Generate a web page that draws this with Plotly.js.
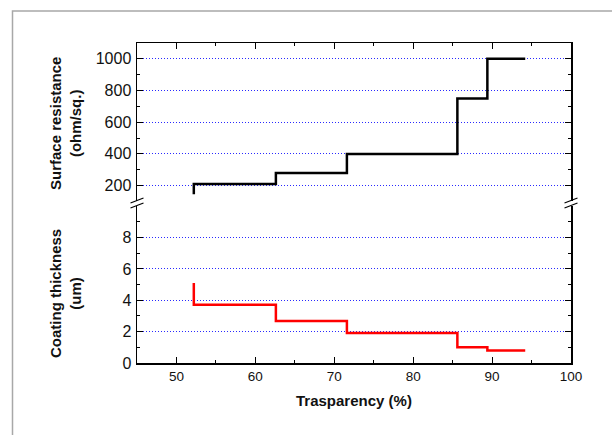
<!DOCTYPE html>
<html>
<head>
<meta charset="utf-8">
<script src="https://cdn.plot.ly/plotly-3.0.1.min.js"></script>
<style>html,body{margin:0;padding:0;background:#fff;}#chart{width:612px;height:435px;}</style>
</head>
<body>
<div id="chart"></div>
<script>
// ---- data ----
const transparency = [52.2, 52.2, 62.6, 71.6, 85.6, 89.4, 94.2];
const resistance   = [145, 210, 280, 400, 750, 1000, 1000];
const thickness    = [5.1, 3.72, 2.68, 1.91, 1.0, 0.79, 0.79];
const xTicks = [50, 60, 70, 80, 90, 100];
const resTicks = [200, 400, 600, 800, 1000];
const thkTicks = [0, 2, 4, 6, 8];
const xTitle = 'Trasparency (%)';
const resTitle = 'Surface resistance<br>(ohm/sq.)';
const thkTitle = 'Coating thickness<br>(um)';

// ---- layout geometry ----
const W = 612, H = 435, ML = 137, MR = 41, MT = 43, MB = 72;
const PW = W - ML - MR, PH = H - MT - MB;
const px = v => (v - ML) / PW;
const py = v => (H - MB - v) / PH;
const FONT = 'Arial, "Liberation Sans", Helvetica, sans-serif';

const common = {
  showline: true, linecolor: '#000', linewidth: 1.5,
  ticks: 'inside', ticklen: 6, tickwidth: 1, tickcolor: '#000',
  zeroline: false
};

const traces = [
  {x: transparency, y: resistance, xaxis: 'x2', yaxis: 'y2', type: 'scatter', mode: 'lines',
   line: {shape: 'hv', color: '#000', width: 2.5}, hoverinfo: 'skip'},
  {x: transparency, y: thickness, xaxis: 'x', yaxis: 'y', type: 'scatter', mode: 'lines',
   line: {shape: 'hv', color: '#ff0000', width: 2.5}, hoverinfo: 'skip'}
];

function brk(xc, yc) {
  return {type: 'line', xref: 'paper', yref: 'paper',
    x0: px(xc - 6.5), y0: py(yc + 2.5), x1: px(xc + 6.5), y1: py(yc - 2.5),
    line: {color: '#000', width: 1.2}};
}

const gridStyle = {showgrid: true, gridcolor: '#2a2aff', gridwidth: 1, griddash: '1px,2px'};

const layout = {
  width: W, height: H,
  margin: {l: ML, r: MR, t: MT, b: MB, pad: 0},
  paper_bgcolor: '#fff', plot_bgcolor: 'rgba(0,0,0,0)',
  showlegend: false,
  font: {family: FONT, color: '#000'},
  xaxis: Object.assign({}, common, {
    domain: [0, 1], anchor: 'y', range: [45, 100], side: 'bottom', mirror: false,
    tickmode: 'array', tickvals: xTicks, ticktext: xTicks.map(String),
    tickfont: {size: 13.5, family: FONT, color: '#111'}, showgrid: false,
    minor: {dtick: 5, tick0: 0, ticks: 'inside', ticklen: 3, tickcolor: '#000', showgrid: false}
  }),
  xaxis2: Object.assign({}, common, {
    domain: [0, 1], anchor: 'y2', range: [45, 100], side: 'top', mirror: false,
    matches: 'x', showticklabels: false, showgrid: false, dtick: 10, tick0: 0,
    minor: {dtick: 5, tick0: 0, ticks: 'inside', ticklen: 3, tickcolor: '#000', showgrid: false}
  }),
  yaxis: Object.assign({}, common, gridStyle, {
    domain: [0, 0.49], anchor: 'x', range: [0, 10], mirror: 'ticks',
    tickmode: 'array', tickvals: thkTicks, ticktext: thkTicks.map(String),
    tickfont: {size: 16, family: FONT, color: '#111'},
    ticklabelstandoff: 1,
    minor: {dtick: 1, tick0: 0, ticks: 'inside', ticklen: 3, tickcolor: '#000', showgrid: false}
  }),
  yaxis2: Object.assign({}, common, gridStyle, {
    domain: [0.505, 1], anchor: 'x2', range: [100, 1100], mirror: 'ticks',
    tickmode: 'array', tickvals: resTicks, ticktext: resTicks.map(String),
    tickfont: {size: 16, family: FONT, color: '#111'},
    ticklabelstandoff: 1,
    minor: {dtick: 100, tick0: 0, ticks: 'inside', ticklen: 3, tickcolor: '#000', showgrid: false}
  }),
  shapes: [
    {type: 'rect', xref: 'paper', yref: 'paper', layer: 'below',
     x0: px(12.5), y0: py(500), x1: px(700), y1: py(11),
     line: {color: '#a8a8a8', width: 1.5}, fillcolor: 'rgba(0,0,0,0)'},
    brk(ML, 200.5), brk(ML, 205.5),
    brk(W - MR, 200.5), brk(W - MR, 205.5)
  ],
  annotations: [
    {text: '<b>' + xTitle + '</b>', xref: 'paper', yref: 'paper', x: px(354), y: py(400),
     xanchor: 'center', yanchor: 'middle', showarrow: false, font: {size: 15, family: FONT, color: '#111'}},
    {text: '<b>' + resTitle + '</b>', xref: 'paper', yref: 'paper', x: px(65.5), y: py(123.5),
     xanchor: 'center', yanchor: 'middle', textangle: -90, showarrow: false,
     font: {size: 15, family: FONT, color: '#111'}},
    {text: '<b>' + thkTitle + '</b>', xref: 'paper', yref: 'paper', x: px(65.5), y: py(293.5),
     xanchor: 'center', yanchor: 'middle', textangle: -90, showarrow: false,
     font: {size: 15, family: FONT, color: '#111'}}
  ]
};

Plotly.newPlot('chart', traces, layout, {staticPlot: true, displayModeBar: false});
</script>
</body>
</html>
